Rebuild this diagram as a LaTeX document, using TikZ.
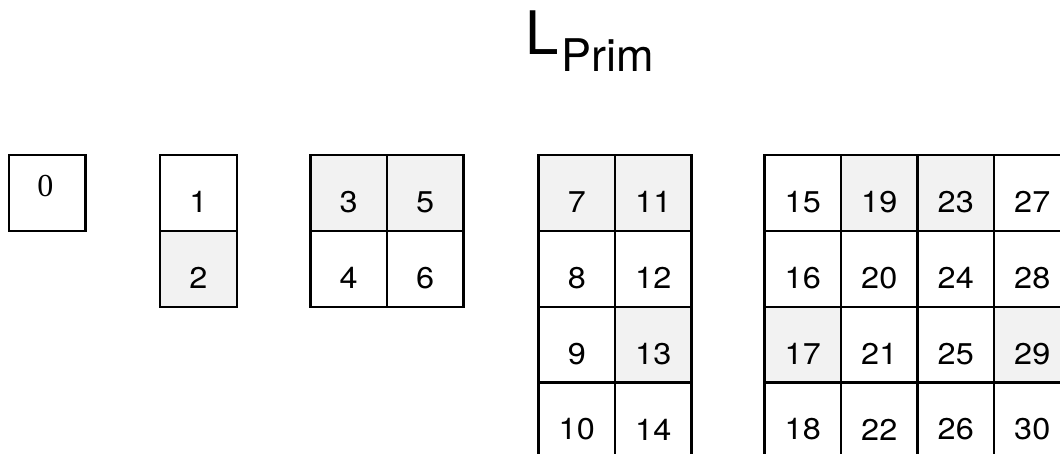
\documentclass[tikz,border=0pt]{standalone}
\usepackage{fontspec}
\setmainfont{TeX Gyre Heros}
\newfontfamily\digitfont[FakeStretch=1.08]{TeX Gyre Heros}
\newfontfamily\zerofont{Liberation Serif}
\definecolor{shade}{HTML}{F2F2F2}
\tikzset{
  cell/.style={draw=black, line width=2.4pt, inner sep=0pt, anchor=north west,
    minimum width=76.5pt, minimum height=75.8pt},
  num/.style={font=\digitfont\fontsize{30}{32}\selectfont, inner sep=0pt, yshift=-9pt},
  zero/.style={font=\zerofont\fontsize{32}{34}\selectfont, inner sep=0pt, yshift=7pt, xshift=-2pt},
}
\begin{document}
\begin{tikzpicture}[x=1pt, y=-1pt]
\useasboundingbox (0,0) rectangle (1060,454);

% title
\node[anchor=base west, inner sep=0pt, font=\fontsize{60}{60}\selectfont] (titleL) at (525.4,55) {L};
\node[anchor=base west, inner sep=0pt, font=\fontsize{45}{45}\selectfont] (titleSub) at (561.4,71.7) {Prim};

% the single cell for 0
\node[cell, fill=white, label={[zero]center:0}] (c0) at (7.8,154) {};

% cells: number / left edge / row index / fill
\foreach \n/\x/\r/\f in {
  1/159/0/white, 2/159/1/shade,
  3/309.3/0/shade, 4/309.3/1/white, 5/385.8/0/shade, 6/385.8/1/white,
  7/537.3/0/shade, 8/537.3/1/white, 9/537.3/2/white, 10/537.3/3/white,
  11/613.8/0/shade, 12/613.8/1/white, 13/613.8/2/shade, 14/613.8/3/white,
  15/763.3/0/white, 16/763.3/1/white, 17/763.3/2/shade, 18/763.3/3/white,
  19/839.8/0/shade, 20/839.8/1/white, 21/839.8/2/white, 22/839.8/3/white,
  23/916.3/0/shade, 24/916.3/1/white, 25/916.3/2/white, 26/916.3/3/white,
  27/992.8/0/white, 28/992.8/1/white, 29/992.8/2/shade, 30/992.8/3/white}
{
  \node[cell, fill=\f, label={[num]center:\n}] (c\n) at (\x,{154+75.8*\r}) {};
}
\end{tikzpicture}
\end{document}
